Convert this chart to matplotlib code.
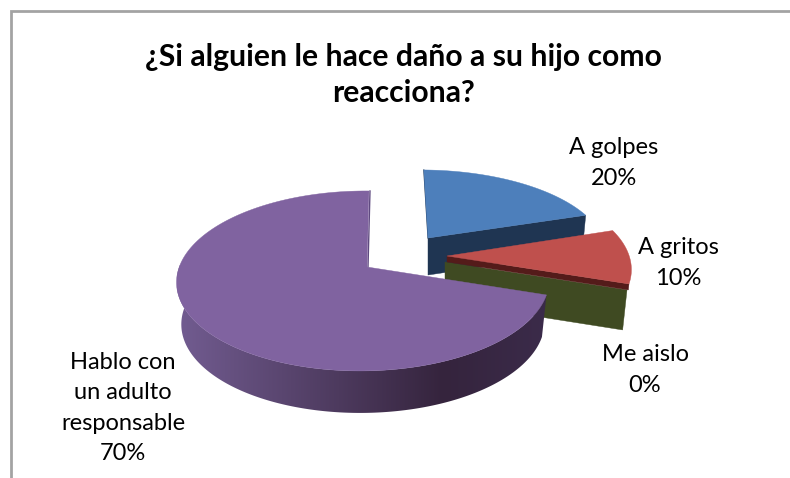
import numpy as np
import matplotlib
matplotlib.use("Agg")
import matplotlib.pyplot as plt
from matplotlib.patches import Polygon

plt.rcParams['font.family'] = ['Lato', 'DejaVu Sans']

# ---- data ----
categories = ["A golpes", "A gritos", "Me aislo", "Hablo con\nun adulto\nresponsable"]
values = [20, 10, 0, 70]
percent_labels = ["20%", "10%", "0%", "70%"]
title_text = "¿Si alguien le hace daño a su hijo como\nreacciona?"

# ---- styles ----
top_colors = ["#4d7fbb", "#bf504d", "#9bbb59", "#8063a0"]
wall_colors = ["#1f3552", "#541b1a", "#3f4a22", "#36273f"]
# per-slice placement: apex x, apex y, x scale, y scale, skew, wall depth
placement = [
    (428, 238, 0.97, 0.895, -5.0, 37),
    (447, 256, 1.01, 1.00, 0.0, 6),
    (445, 262, 1.01, 1.00, 0.0, 40),
    (367, 267, 1.00, 1.00, 2.3, 42),
]
label_pos = [(614, 163), (678, 263), (645, 370), (123, 408)]

A, B, K, M = 184.0, 87.8, 0.155, 0.02


def project(theta, r, p, down=0.0):
    ax0, ay0, sx, sy, skew, _ = p
    X, Y = r * np.sin(theta), r * np.cos(theta)
    w = 1 + K * Y + M * X
    x = ax0 + sx * (A * X + skew * Y) / w
    y = ay0 - sy * B * Y / w
    # the lower rim sits a little smaller than the upper rim
    return x - 0.0006 * down * (x - ax0), y + down


fig = plt.figure(figsize=(7.9, 4.78), dpi=100)
ax = fig.add_axes([0, 0, 1, 1])
ax.axis("off")

# frame: top and left edges only
ax.plot([11, 11, 790], [478, 10.5, 10.5], color="#a3a3a3", lw=2, solid_joinstyle="miter", zorder=1)

total = sum(values)
starts = np.cumsum([0] + values[:-1]) / total * 2 * np.pi
ends = np.cumsum(values) / total * 2 * np.pi


def radial_wall(theta, p, color, z):
    depth = p[5]
    x0, y0 = project(theta, 0.0, p)
    x1, y1 = project(theta, 1.0, p)
    x2, y2 = project(theta, 1.0, p, depth)
    x3, y3 = project(theta, 0.0, p, depth)
    ax.fill([x0, x1, x2, x3], [y0, y1, y2, y3], color=color, lw=0.3, zorder=z)


def top_face(t0, t1, p, color, z):
    th = np.linspace(t0, t1, 200)
    x, y = project(th, 1.0, p)
    ax.fill(np.r_[p[0], x], np.r_[p[1], y], color=color, lw=0.3, zorder=z)


# A golpes: wall of the cut at its end angle, then top
radial_wall(ends[0], placement[0], wall_colors[0], 3)
top_face(starts[0], ends[0], placement[0], top_colors[0], 4)
x0, y0 = project(starts[0], 0.0, placement[0])
x1, y1 = project(starts[0], 1.0, placement[0])
ax.plot([x0, x1], [y0, y1], color=wall_colors[0], lw=0.8, zorder=3.5)

# Me aislo (zero slice): only its wall shows
radial_wall(starts[2], placement[2], wall_colors[2], 5)
# A gritos: thin wall and top
radial_wall(ends[1], placement[1], wall_colors[1], 6)
top_face(starts[1], ends[1], placement[1], top_colors[1], 7)

# Hablo con un adulto: rim with horizontal shading, then top
p = placement[3]
th = np.linspace(starts[3], ends[3], 500)
vis = th[th < np.deg2rad(272)]
xs, ys = project(vis, 1.0, p)
xb, yb = project(vis, 1.0, p, p[5])
xmin, xmax = xs.min(), xs.max()
stops = np.array([0.0, 0.72, 1.0])
stop_colors = np.array([matplotlib.colors.to_rgb(c) for c in ("#725c91", "#35243d", "#3b2b4a")])
u = np.linspace(0, 1, 400)
grad = np.stack([np.interp(u, stops, stop_colors[:, i]) for i in range(3)], axis=-1)[None, :, :]
im = ax.imshow(grad, extent=(xmin, xmax, yb.max(), ys.min()), aspect="auto", zorder=8, interpolation="bilinear")
rim = Polygon(np.c_[np.r_[xs, xb[::-1]], np.r_[ys, yb[::-1]]], closed=True, transform=ax.transData)
im.set_clip_path(rim)
top_face(starts[3], ends[3], p, top_colors[3], 9)
x0, y0 = project(ends[3], 0.0, p)
x1, y1 = project(ends[3], 1.0, p)
ax.plot([x0 + 1, x1 + 1], [y0, y1], color="#5f4a80", lw=1, zorder=8.5)

ax.set_xlim(0, 790)
ax.set_ylim(478, 0)

# ---- text ----
ax.text(403, 75, title_text, ha="center", va="center", fontsize=21.7, fontweight="bold",
        color="black", linespacing=1.35, zorder=20)
for cat, pct, (lx, ly) in zip(categories, percent_labels, label_pos):
    ax.text(lx, ly, f"{cat}\n{pct}", ha="center", va="center", fontsize=17,
            color="black", linespacing=1.56, zorder=20)

fig.savefig("out.png", dpi=100)
